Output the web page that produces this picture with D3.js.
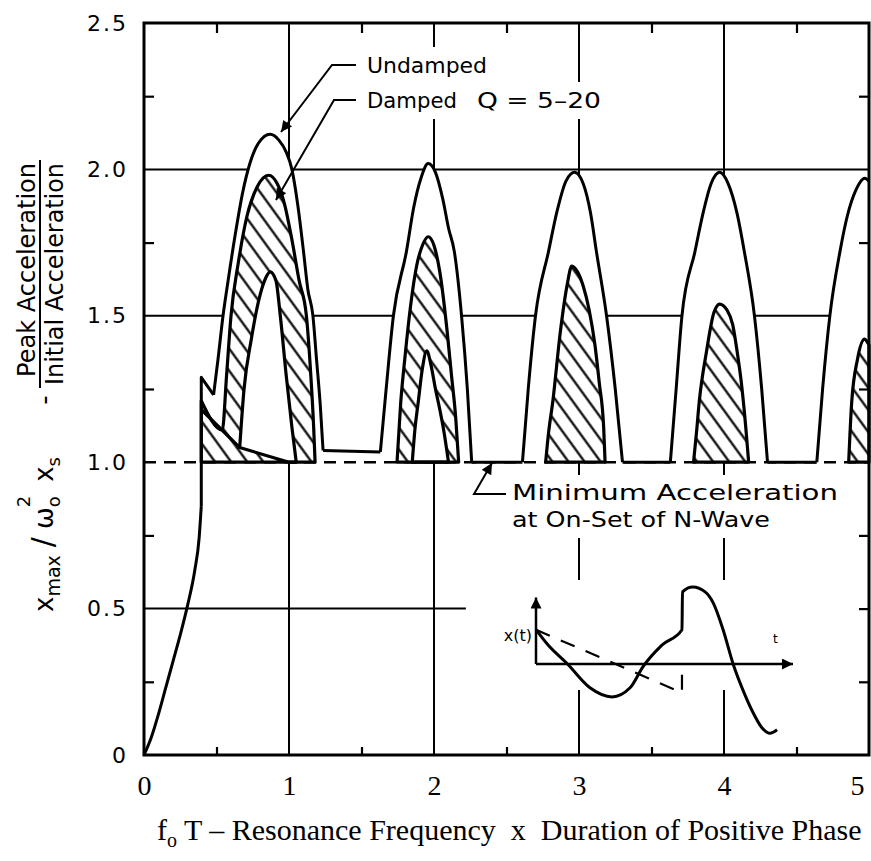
<!DOCTYPE html>
<html>
<head>
<meta charset="utf-8">
<script src="https://cdn.jsdelivr.net/npm/d3@7"></script>
<style>
  body { margin: 0; background: #fff; }
  svg { display: block; }
  text { fill: #000; }
</style>
</head>
<body>
<div id="chart"></div>
<script>
// ---- axis values
const yTickValues = [0, 0.5, 1.0, 1.5, 2.0, 2.5];
const yTickLabels = ["0", "0.5", "1.0", "1.5", "2.0", "2.5"];
const xTickValues = [0, 1, 2, 3, 4, 5];
const yMinorTicks = [0.25, 0.75, 1.25, 1.75, 2.25];
const xMinorTicks = [0.5, 1.5, 2.5, 3.5, 4.5];
const rightTicks  = [0.25, 0.5, 0.75, 1.25, 1.75, 2.25];

// ---- grid
const solidGridY = [1.5, 2.0];
const halfGrid   = [[0, 0.5], [2.22, 0.5]];   // 0.5 line stops short
const gridX      = [1, 2, 3, 4];

// ---- undamped response
const undampedRise = [[0,0],[0.05,0.06],[0.1,0.14],[0.15,0.23],[0.2,0.32],[0.25,0.41],
  [0.3,0.51],[0.35,0.63],[0.38,0.74],[0.395,0.85]];
const undampedStep = [[0.395,0.85],[0.395,1.29],[0.48,1.23]];
const undampedArch1 = [[0.48,1.23],[0.51,1.35],[0.545,1.5],[0.58,1.62],[0.63,1.78],[0.68,1.92],
  [0.73,2.02],[0.79,2.09],[0.87,2.12],[0.93,2.1],[0.98,2.06],[1.02,2.0],[1.06,1.88],[1.1,1.72],
  [1.13,1.59],[1.165,1.5],[1.19,1.35],[1.215,1.2],[1.235,1.04]];
const undampedArch2 = [[1.63,1.035],[1.67,1.25],[1.72,1.5],[1.81,1.72],[1.86,1.87],[1.91,1.97],
  [1.96,2.02],[2.01,1.99],[2.06,1.9],[2.1,1.8],[2.14,1.72],[2.19,1.5],[2.23,1.25],[2.26,1.0]];
const undampedArch3 = [[2.61,1.0],[2.65,1.25],[2.7,1.5],[2.79,1.72],[2.85,1.86],[2.91,1.96],
  [2.97,1.99],[3.03,1.95],[3.08,1.85],[3.12,1.72],[3.19,1.5],[3.25,1.25],[3.3,1.0]];
const undampedArch4 = [[3.63,1.0],[3.67,1.25],[3.71,1.5],[3.8,1.72],[3.86,1.86],[3.91,1.95],
  [3.97,1.99],[4.03,1.95],[4.09,1.85],[4.14,1.72],[4.21,1.5],[4.26,1.25],[4.3,1.0]];
const undampedArch5 = [[4.64,1.0],[4.68,1.25],[4.73,1.5],[4.8,1.72],[4.85,1.84],[4.91,1.93],
  [4.97,1.97],[5.0,1.96]];
const undampedArches = [undampedArch1, undampedArch2, undampedArch3, undampedArch4, undampedArch5];

// ---- damped band Q = 5-20 (outer edge = Q 20, inner edge = Q 5)
const dampedOuter1 = [[0.395,1.21],[0.54,1.11],[0.57,1.3],[0.6,1.5],[0.65,1.68],[0.71,1.84],
  [0.78,1.94],[0.86,1.98],[0.92,1.95],[0.97,1.88],[1.02,1.76],[1.07,1.62],[1.12,1.5],
  [1.15,1.3],[1.17,1.12],[1.18,1.0]];
const dampedInner1 = [[0.66,1.05],[0.69,1.25],[0.74,1.42],[0.79,1.55],[0.84,1.63],[0.87,1.65],
  [0.91,1.62],[0.94,1.5],[0.98,1.3],[1.02,1.12],[1.05,1.0]];
const dampedInnerBase1 = [[1.0,1.0]];
const dampedTail1 = [[0.395,1.18],[0.66,1.05]];
const dampedOuter2 = [[1.745,1.0],[1.77,1.2],[1.8,1.36],[1.84,1.54],[1.88,1.67],[1.92,1.74],
  [1.96,1.77],[2.0,1.74],[2.04,1.65],[2.09,1.45],[2.12,1.3],[2.15,1.15],[2.17,1.0]];
const dampedInner2 = [[1.85,1.0],[1.87,1.12],[1.89,1.2],[1.92,1.32],[1.95,1.38],[1.98,1.33],
  [2.01,1.25],[2.04,1.18],[2.07,1.1],[2.1,1.0]];
const dampedOuter3 = [[2.77,1.0],[2.79,1.1],[2.82,1.21],[2.87,1.44],[2.92,1.61],[2.95,1.67],
  [2.99,1.65],[3.03,1.6],[3.07,1.52],[3.11,1.4],[3.14,1.27],[3.17,1.12],[3.18,1.0]];
const dampedOuter4 = [[3.79,1.0],[3.81,1.1],[3.83,1.21],[3.88,1.38],[3.93,1.51],[3.97,1.54],
  [4.02,1.52],[4.06,1.47],[4.09,1.38],[4.12,1.27],[4.15,1.12],[4.17,1.0]];
const dampedOuter5 = [[4.86,1.0],[4.88,1.2],[4.92,1.35],[4.97,1.42],[5.0,1.4]];
const dampedOuters = [dampedOuter1, dampedOuter2, dampedOuter3, dampedOuter4, dampedOuter5];
const dampedHoles = [
  { arch: dampedInner1, base: dampedInnerBase1 },
  { arch: dampedInner2, base: [] }
];

// ---- inset sketch: N-wave input and response, t in 0..10, amplitude -1..1
const insetResponse = [[0,0.49],[0.47,0.27],[1.2,0.01],[2.1,-0.34],[2.96,-0.47],[3.66,-0.34],
  [4.16,-0.04],[4.9,0.27],[5.68,0.49],[5.7,1.03],[6.1,1.1],[6.58,1.03],[6.9,0.87],[7.28,0.49],
  [7.67,0],[8.13,-0.44],[8.44,-0.69],[8.79,-0.91],[9.1,-0.99],[9.38,-0.94]];
const insetNWave = [[0,0.49],[5.68,-0.41],[5.68,0]];

// ---- layout
const W = 871, H = 861;
const x = d3.scaleLinear().domain([0, 5]).range([144, 869]);
const y = d3.scaleLinear().domain([0, 2.5]).range([755, 23]);
const SANS = "'DejaVu Sans', sans-serif";
const SERIF = "'Liberation Serif', 'Times New Roman', serif";

const svg = d3.select("#chart").append("svg")
    .attr("width", W).attr("height", H)
    .attr("viewBox", `0 0 ${W} ${H}`);
svg.append("rect").attr("width", W).attr("height", H).attr("fill", "#fff");

const defs = svg.append("defs");
defs.append("pattern")
    .attr("id", "hatch")
    .attr("patternUnits", "userSpaceOnUse")
    .attr("width", 13).attr("height", 13)
    .attr("patternTransform", "rotate(-36)")
  .append("line")
    .attr("x1", 6.5).attr("y1", 0).attr("x2", 6.5).attr("y2", 13)
    .attr("stroke", "#000").attr("stroke-width", 2.2);
defs.append("marker")
    .attr("id", "arr")
    .attr("viewBox", "0 0 10 10")
    .attr("refX", 10).attr("refY", 5)
    .attr("markerUnits", "userSpaceOnUse")
    .attr("markerWidth", 17).attr("markerHeight", 11)
    .attr("orient", "auto")
  .append("path").attr("d", "M0,0 L10,5 L0,10 z").attr("fill", "#000");

const lineLin = d3.line().x(d => x(d[0])).y(d => y(d[1]));
const lineSmooth = d3.line().curve(d3.curveMonotoneX).x(d => x(d[0])).y(d => y(d[1]));
const areaSmooth = d3.area().curve(d3.curveMonotoneX)
    .x(d => x(d[0])).y0(y(1)).y1(d => y(d[1]));

// ---- grid lines
const grid = svg.append("g").attr("stroke", "#000").attr("stroke-width", 2);
solidGridY.forEach(v => grid.append("line")
    .attr("x1", x(0)).attr("x2", x(5)).attr("y1", y(v)).attr("y2", y(v)));
grid.append("path").attr("d", lineLin(halfGrid)).attr("fill", "none");
gridX.forEach(v => grid.append("line")
    .attr("x1", x(v)).attr("x2", x(v)).attr("y1", y(0)).attr("y2", y(2.5)));

// ---- white inside the undamped arches (hides grid)
svg.append("g").attr("fill", "#fff")
  .selectAll("path")
  .data([undampedStep.slice(1).concat(undampedArch1.slice(1))].concat(undampedArches.slice(1)))
  .join("path")
    .attr("d", d => areaSmooth(d));

// ---- dashed minimum line
svg.append("line")
    .attr("x1", x(0)).attr("x2", x(5)).attr("y1", y(1)).attr("y2", y(1))
    .attr("stroke", "#000").attr("stroke-width", 2.5)
    .attr("stroke-dasharray", "12,8");

// ---- hatched damped band
const band = svg.append("g");
band.selectAll("path.fill")
  .data(dampedOuters)
  .join("path")
    .attr("class", "fill")
    .attr("d", d => areaSmooth(d))
    .attr("fill", "url(#hatch)");
const holePath = h => lineSmooth(h.arch) +
  h.base.map(p => `L${x(p[0])},${y(p[1])}`).join("") + "Z";
band.selectAll("path.hole")
  .data(dampedHoles)
  .join("path")
    .attr("class", "hole")
    .attr("d", holePath)
    .attr("fill", "#fff")
    .attr("stroke", "#000").attr("stroke-width", 3.2)
    .attr("stroke-linejoin", "round");
band.selectAll("path.edge")
  .data(dampedOuters)
  .join("path")
    .attr("class", "edge")
    .attr("d", d => areaSmooth(d))
    .attr("fill", "none")
    .attr("stroke", "#000").attr("stroke-width", 3.2)
    .attr("stroke-linejoin", "round");
band.append("path")
    .attr("d", lineLin(dampedTail1))
    .attr("fill", "none").attr("stroke", "#000").attr("stroke-width", 3.2);

// ---- undamped curve
const und = svg.append("g").attr("fill", "none").attr("stroke", "#000")
    .attr("stroke-width", 3).attr("stroke-linejoin", "round");
und.append("path").attr("d", lineSmooth(undampedRise));
und.append("path").attr("d", lineLin(undampedStep));
undampedArches.forEach((a, i) => {
  und.append("path").attr("d", lineSmooth(a));
  if (i < undampedArches.length - 1) {
    const next = undampedArches[i + 1];
    und.append("path").attr("d", lineLin([a[a.length - 1], next[0]]));
  }
});

// ---- frame and ticks
svg.append("rect")
    .attr("x", x(0)).attr("y", y(2.5))
    .attr("width", x(5) - x(0)).attr("height", y(0) - y(2.5))
    .attr("fill", "none").attr("stroke", "#000").attr("stroke-width", 3);

function styleTicks(g) {
  g.select(".domain").remove();
  g.selectAll(".tick line").attr("stroke-width", 2.2);
}
svg.append("g").attr("transform", `translate(${x(0)},0)`)
    .call(d3.axisLeft(y).tickValues(yMinorTicks).tickSize(-10).tickFormat(""))
    .call(styleTicks);
svg.append("g").attr("transform", `translate(${x(5)},0)`)
    .call(d3.axisRight(y).tickValues(rightTicks).tickSize(-10).tickFormat(""))
    .call(styleTicks);
svg.append("g").attr("transform", `translate(0,${y(2.5)})`)
    .call(d3.axisTop(x).tickValues(xMinorTicks).tickSize(-10).tickFormat(""))
    .call(styleTicks);
svg.append("g").attr("transform", `translate(0,${y(0)})`)
    .call(d3.axisBottom(x).tickValues(xMinorTicks).tickSize(-8).tickFormat(""))
    .call(styleTicks);

// tick labels
const yLab = svg.append("g").attr("transform", `translate(${x(0)},0)`)
    .call(d3.axisLeft(y).tickValues(yTickValues).tickSize(0).tickPadding(16)
      .tickFormat(d => yTickLabels[yTickValues.indexOf(d)]));
yLab.select(".domain").remove();
yLab.selectAll("text")
    .attr("font-family", SANS).attr("font-size", 22)
    .attr("letter-spacing", 2).attr("fill", "#000");

const xLab = svg.append("g").attr("transform", `translate(0,${y(0)})`)
    .call(d3.axisBottom(x).tickValues(xTickValues).tickSize(0).tickPadding(20)
      .tickFormat(d3.format("d")));
xLab.select(".domain").remove();
xLab.selectAll("text")
    .attr("font-family", SERIF).attr("font-size", 28).attr("fill", "#000")
    .attr("dx", d => d === 5 ? -12 : 0);

// ---- axis titles
const xt = svg.append("text")
    .attr("x", 157).attr("y", 840)
    .attr("font-family", SERIF).attr("font-size", 30)
    .style("white-space", "pre");
xt.append("tspan").text("f");
xt.append("tspan").attr("font-size", 20).attr("dy", 7).text("o");
xt.append("tspan").attr("dy", -7).text(" T \u2013 Resonance Frequency  x  Duration of Positive Phase");

const yt = svg.append("g").attr("transform", "rotate(-90)")
    .attr("font-family", SANS);
const yt1 = yt.append("text").attr("x", -612).attr("y", 53).attr("font-size", 26);
yt1.append("tspan").text("x");
yt1.append("tspan").attr("font-size", 19).attr("dy", 7).text("max");
yt1.append("tspan").attr("font-size", 30).attr("dy", -7).attr("dx", 8).text("/");
yt1.append("tspan").attr("dx", 8).text("\u03c9");
yt1.append("tspan").attr("font-size", 18).attr("dy", 7).text("o");
yt1.append("tspan").attr("font-size", 18).attr("dy", -30).attr("dx", -11).text("2");
yt1.append("tspan").attr("dy", 23).attr("dx", 14).text("x");
yt1.append("tspan").attr("font-size", 18).attr("dy", 7).text("s");
yt.append("text").attr("x", -400).attr("y", 53).attr("font-size", 26)
    .attr("text-anchor", "middle").text("-");
yt.append("text").attr("x", -163).attr("y", 35).attr("font-size", 25)
    .attr("text-anchor", "end")
    .attr("textLength", 214).attr("lengthAdjust", "spacingAndGlyphs")
    .text("Peak Acceleration");
yt.append("line").attr("x1", -388).attr("x2", -160).attr("y1", 40).attr("y2", 40)
    .attr("stroke", "#000").attr("stroke-width", 2);
yt.append("text").attr("x", -163).attr("y", 63).attr("font-size", 25)
    .attr("text-anchor", "end")
    .attr("textLength", 222).attr("lengthAdjust", "spacingAndGlyphs")
    .text("Initial Acceleration");

// ---- annotations with white backing
function label(px, py, str, size, len) {
  const t = svg.append("text").attr("x", px).attr("y", py)
      .attr("font-family", SANS).attr("font-size", size).text(str);
  if (len) t.attr("textLength", len).attr("lengthAdjust", "spacingAndGlyphs");
  const b = t.node().getBBox();
  svg.insert("rect", () => t.node())
      .attr("x", b.x - 4).attr("y", b.y - 6)
      .attr("width", b.width + 8).attr("height", b.height + 12)
      .attr("fill", "#fff");
  return t;
}
label(367, 73, "Undamped", 22, 120);
label(367, 108, "Damped", 22, 90);
label(477, 108, "Q = 5\u201320", 22, 124);
label(512, 500, "Minimum Acceleration", 21, 326);
label(512, 527, "at On-Set of N-Wave", 21, 258);

const lead = svg.append("g").attr("fill", "none").attr("stroke", "#000").attr("stroke-width", 2);
lead.append("path").attr("d", "M356,65 L332,65 L281,132").attr("marker-end", "url(#arr)");
lead.append("path").attr("d", "M356,100 L334,100 L276,200").attr("marker-end", "url(#arr)");
lead.append("path").attr("d", "M506,494 L474,494 L492,463").attr("marker-end", "url(#arr)");

// ---- inset sketch
const tx = d3.scaleLinear().domain([0, 10]).range([536, 793]);
const ax = d3.scaleLinear().domain([-1, 1]).range([734, 594]);
const inset = svg.append("g");
inset.append("rect").attr("x", 496).attr("y", 580).attr("width", 304).attr("height", 110)
    .attr("fill", "#fff");
inset.append("line")
    .attr("x1", tx(0)).attr("x2", tx(10)).attr("y1", ax(0)).attr("y2", ax(0))
    .attr("stroke", "#000").attr("stroke-width", 2.5).attr("marker-end", "url(#arr)");
inset.append("line")
    .attr("x1", tx(0)).attr("x2", tx(0)).attr("y1", ax(0)).attr("y2", ax(0.95))
    .attr("stroke", "#000").attr("stroke-width", 2.5).attr("marker-end", "url(#arr)");
inset.append("path")
    .attr("d", d3.line().x(d => tx(d[0])).y(d => ax(d[1]))(insetNWave))
    .attr("fill", "none").attr("stroke", "#000").attr("stroke-width", 2.2)
    .attr("stroke-dasharray", "15,12");
inset.append("path")
    .attr("d", d3.line().curve(d3.curveMonotoneX).x(d => tx(d[0])).y(d => ax(d[1]))(insetResponse))
    .attr("fill", "none").attr("stroke", "#000").attr("stroke-width", 3);
inset.append("text").attr("x", 532).attr("y", 641).attr("text-anchor", "end")
    .attr("font-family", SANS).attr("font-size", 16).text("x(t)");
inset.append("text").attr("x", 773).attr("y", 643)
    .attr("font-family", SANS).attr("font-size", 12).text("t");
</script>
</body>
</html>
